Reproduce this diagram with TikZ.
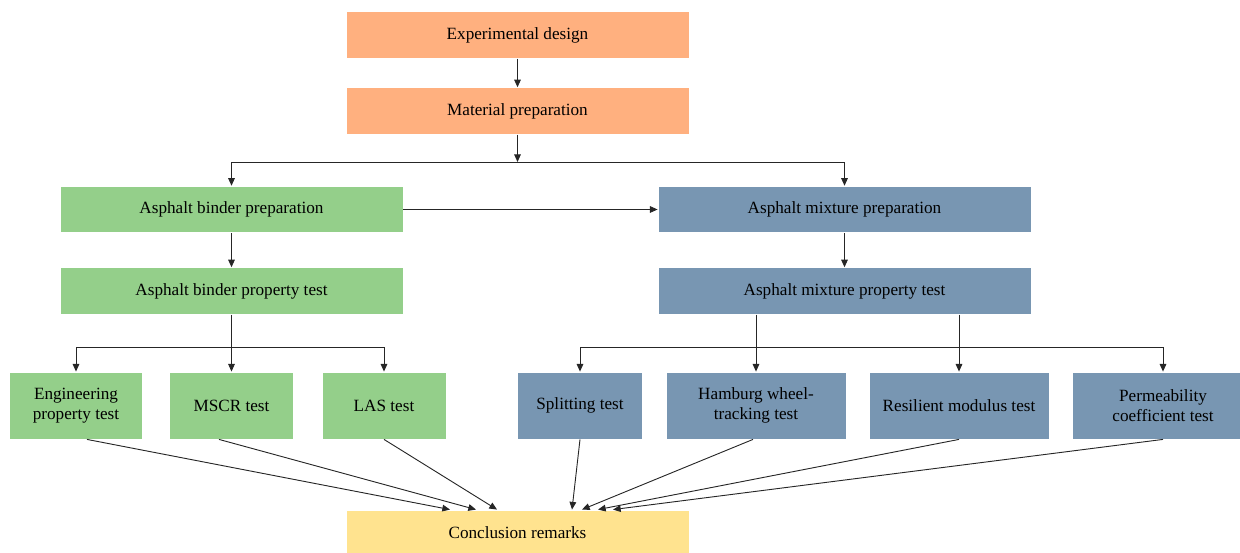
\documentclass[tikz,border=0pt]{standalone}
\usepackage{fontspec}
\setmainfont{Liberation Serif}
\usetikzlibrary{calc}
\usetikzlibrary{arrows.meta}
\definecolor{boxorange}{HTML}{FFB07F}
\definecolor{boxgreen}{HTML}{94CF8A}
\definecolor{boxblue}{HTML}{7896B2}
\definecolor{boxyellow}{HTML}{FFE38F}
\begin{document}
\begin{tikzpicture}[x=0.6pt,y=-0.6pt,
                    font=\fontsize{10.3}{12}\selectfont,
                    >={Triangle[length=4.6pt,width=4pt]},
                    flow/.style={line width=0.55pt,draw=black!85},
                    stagebox/.style={draw=white,line width=0.5pt,minimum height=28pt,align=center,inner sep=1pt},
                    orangebox/.style={stagebox,fill=boxorange,minimum width=205.8pt},
                    greenbox/.style={stagebox,fill=boxgreen},
                    bluebox/.style={stagebox,fill=boxblue},
                    yellowbox/.style={stagebox,fill=boxyellow,minimum width=205.8pt},
                    testbox/.style={minimum height=40.2pt}]
                    \useasboundingbox (0,0) rectangle (1240,553);

                    \node[orangebox] (design) at (517.5,35) {Experimental design};
                    \node[orangebox] (material) at (517.5,111) {Material preparation};

                    \node[greenbox,minimum width=205.8pt] (binprep) at (231.5,209.5) {Asphalt binder preparation};
                    \node[bluebox,minimum width=223.8pt] (mixprep) at (844.5,209.5) {Asphalt mixture preparation};
                    \node[greenbox,minimum width=205.8pt] (bintest) at (231.5,291) {Asphalt binder property test};
                    \node[bluebox,minimum width=223.8pt] (mixtest) at (844.5,291) {Asphalt mixture property test};

                    \node[greenbox,testbox,minimum width=79.8pt] (eng) at (76,405.5) {Engineering\\property test};
                    \node[greenbox,testbox,minimum width=74.4pt] (mscr) at (231.5,405.5) {MSCR test};
                    \node[greenbox,testbox,minimum width=74.4pt] (las) at (384,405.5) {LAS test};
                    \node[bluebox,testbox,minimum width=75pt] (split) at (580,405.5) {Splitting test};
                    \node[bluebox,testbox,minimum width=108pt] (hamburg) at (756,405.5) {Hamburg wheel-\\tracking test};
                    \node[bluebox,testbox,minimum width=108pt] (resil) at (959,405.5) {Resilient modulus test};
                    \node[bluebox,testbox,minimum width=109.2pt] (perm) at (1163,405.5) {Permeability\\coefficient test};

                    \node[yellowbox,minimum height=27.6pt] (concl) at (517.5,533) {Conclusion remarks};

                    \coordinate (matfork) at (517.5,162);
                    \coordinate (binfork) at (231.5,347);
                    \coordinate (mixfork) at (756,347);

                    \draw[flow,->] (design) -- (material);
                    \draw[flow,->] (material) -- (matfork);
                    \draw[flow,->] (matfork) -| (binprep);
                    \draw[flow,->] (matfork) -| (mixprep);
                    \draw[flow,->] (binprep) -- (mixprep);
                    \draw[flow,->] (binprep) -- (bintest);
                    \draw[flow,->] (mixprep) -- (mixtest);

                    \draw[flow] (bintest) -- (binfork);
                    \draw[flow,->] (binfork) -| (eng);
                    \draw[flow,->] (binfork) -- (mscr);
                    \draw[flow,->] (binfork) -| (las);

                    \draw[flow,->] (mixtest.south -| hamburg.north) -- (hamburg);
                    \draw[flow,->] (mixtest.south -| resil.north) -- (resil);
                    \draw[flow,->] (mixfork) -| (split);
                    \draw[flow,->] (mixfork) -| (perm);

                    \draw[flow,->] ([xshift=6.6pt]eng.south) -- ([xshift=-40.5pt]concl.north);
                    \draw[flow,->] ([xshift=-7.5pt]mscr.south) -- ([xshift=-24.9pt]concl.north);
                    \draw[flow,->] (las.south) -- ([xshift=-12.3pt]concl.north);
                    \draw[flow,->] (split.south) -- ([xshift=32.7pt]concl.north);
                    \draw[flow,->] ([xshift=-1.8pt]hamburg.south) -- ([xshift=38.7pt]concl.north);
                    \draw[flow,->] (resil.south) -- ([xshift=48.3pt]concl.north);
                    \draw[flow,->] (perm.south) -- ([xshift=57.3pt]concl.north);
                \end{tikzpicture}
\end{document}
